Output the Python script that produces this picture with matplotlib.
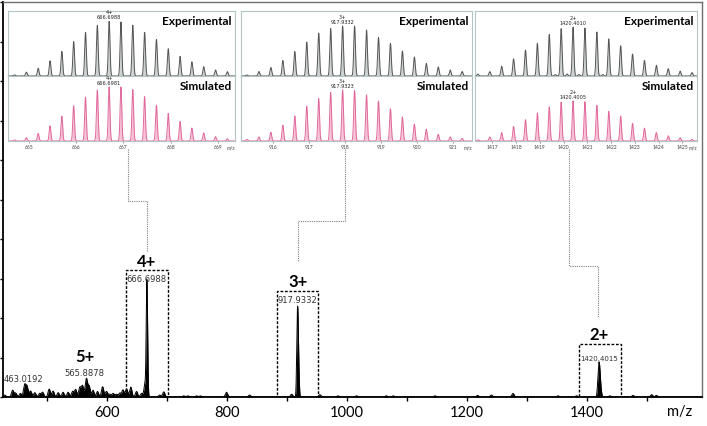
import numpy as np
import matplotlib.pyplot as plt
from matplotlib.patches import Rectangle

plt.rcParams['font.family'] = ['Lato', 'DejaVu Sans']

# isotope clusters: index of each isotope peak relative to the labelled one
iso_k = np.arange(-8, 11)
charges = [4, 3, 2]
exp_mz = [666.6988, 917.9332, 1420.4010]
sim_mz = [666.6981, 917.9323, 1420.4005]
exp_int = [
    [2, 7, 14, 28, 45, 63, 80, 93, 100, 99, 93, 80, 67, 50, 36, 26, 17, 11, 8],
    [2, 9, 17, 31, 49, 68, 86, 95, 100, 100, 92, 77, 65, 50, 38, 25, 18, 12, 9],
    [4, 9, 20, 35, 53, 67, 85, 97, 100, 98, 90, 76, 62, 45, 32, 22, 15, 10, 7],
]
sim_int = [
    [2, 6, 14, 28, 46, 65, 81, 94, 100, 100, 95, 82, 66, 51, 36, 24, 15, 8, 4],
    [3, 8, 17, 31, 49, 68, 83, 95, 100, 99, 90, 78, 63, 47, 33, 23, 13, 8, 5],
    [3, 10, 21, 36, 53, 70, 85, 97, 100, 98, 89, 74, 62, 44, 32, 21, 13, 8, 4],
]
# small extra peaks seen in the 2+ experimental trace
extra_mz = [1419.65, 1420.15, 1420.65, 1421.65]
extra_int = [3, 4, 3, 3]

inset_xlim = [(664.56, 669.36), (915.10, 921.54), (1416.28, 1425.61)]
inset_ticks = [list(range(665, 670)), list(range(916, 922)), list(range(1417, 1426))]
exp_top = [119, 130, 133]
sim_top = [120, 127, 162]

# full spectrum
main_mz = [666.6988, 917.9332, 1420.4015]
main_h = [28.6, 23.0, 8.9]
noise_mz = [430, 443, 448, 456, 463, 467, 473, 480, 488, 493,
            504, 510.5, 519, 527, 535.5, 543, 548, 555, 559.5, 565.9,
            570.5, 577, 584.5, 593, 599.5, 605, 610.5, 616, 621.7, 627,
            633, 640, 649.5, 658, 664, 688, 695, 728, 735, 749.5,
            756, 799.5, 838, 908, 955, 985, 1016, 1066, 1077, 1147,
            1218, 1241, 1277, 1352, 1383, 1438, 1477, 1508, 1516]
noise_h = [0.5, 1.7, 1.0, 0.9, 3.0, 2.6, 1.5, 1.1, 0.9, 1.2,
           2.0, 1.5, 1.1, 1.2, 1.2, 1.4, 1.9, 2.4, 2.8, 4.6,
           2.7, 1.7, 1.4, 2.6, 1.4, 0.7, 0.9, 0.7, 1.0, 1.8,
           2.0, 2.5, 1.4, 0.9, 3.5, 0.5, 1.3, 0.3, 0.3, 0.3,
           0.3, 1.2, 0.5, 0.7, 0.6, 0.3, 0.3, 0.3, 0.3, 0.3,
           0.4, 0.5, 0.9, 0.3, 0.3, 0.3, 0.4, 0.6, 0.4]
small_labels = [(461.7, 4.6, '463.0192'), (563, 6.3, '565.8878')]
box_mz = [(632, 702), (883, 952), (1387, 1457)]
box_top = [32.2, 26.8, 13.4]


def profile(x, centers, heights, sigma):
    c = np.asarray(centers, dtype=float)[:, None]
    h = np.asarray(heights, dtype=float)[:, None]
    return (h * np.exp(-0.5 * ((x - c) / sigma) ** 2)).sum(axis=0)


W, H = 707, 427
fig = plt.figure(figsize=(W / 100, H / 100), dpi=100)

ax = fig.add_axes([3 / W, 1 - 398 / H, 699 / W, 395 / H])
x = np.linspace(427, 1592, 20000)
y = profile(x, noise_mz, noise_h, 1.9)
for mz, z, ints, h in zip(main_mz, charges, exp_int, main_h):
    p = profile(x, mz + iso_k / z, ints, 0.7)
    y += p * h / p.max()
ax.fill_between(x, y, color='black', lw=0)
ax.plot(x, y, color='black', lw=0.7)
ax.set_xlim(427, 1592)
ax.set_ylim(0, 100)
ax.set_xticks([600, 800, 1000, 1200, 1400])
ax.set_xticks(range(500, 1600, 100), minor=True)
ax.set_yticks(range(0, 101, 10))
ax.tick_params(axis='x', which='both', direction='out', length=3, width=1,
               labelsize=10.5, pad=3)
ax.tick_params(axis='y', direction='out', length=2.5, width=1, labelleft=False)
for s in ['left', 'bottom']:
    ax.spines[s].set_linewidth(1.3)
for s in ['top', 'right']:
    ax.spines[s].set_color('#707070')
    ax.spines[s].set_linewidth(1)
ax.text((680 - 3) / 699, -0.035, 'm/z', transform=ax.transAxes,
        ha='center', va='center', fontsize=10.5)

# boxes and charge labels
for (a, b), t in zip(box_mz, box_top):
    ax.add_patch(Rectangle((a, 0), b - a, t, fill=False, ec='black', lw=1,
                           ls=(0, (2, 1.2)), zorder=3))
ax.text(666.7, 34.4, '4+', ha='center', va='center', fontsize=12, fontweight='bold')
ax.text(666.7, 30.0, '666.6988', ha='center', va='center', fontsize=6,
        family='DejaVu Sans', color='#333333')
ax.text(918.0, 29.4, '3+', ha='center', va='center', fontsize=12, fontweight='bold')
ax.text(918.0, 24.6, '917.9332', ha='center', va='center', fontsize=6,
        family='DejaVu Sans', color='#333333')
ax.text(1421, 16.0, '2+', ha='center', va='center', fontsize=12, fontweight='bold')
ax.text(1421, 9.9, '1420.4015', ha='center', va='center', fontsize=5,
        family='DejaVu Sans', color='#333333')
ax.text(563, 10.4, '5+', ha='center', va='center', fontsize=12, fontweight='bold')
for mx, my, s in small_labels:
    ax.text(mx, my, s, ha='center', va='center', fontsize=6,
            family='DejaVu Sans', color='#333333')

# dotted connectors from the insets down to the peaks
conn = dict(color='#808080', lw=0.8, ls=(0, (1, 1)), clip_on=False)
ax.plot([635, 635, 666.7, 666.7], [62.8, 49.6, 49.6, 37.0], **conn)
ax.plot([996.7, 996.7, 918.3, 918.3], [62.8, 44.6, 44.6, 34.4], **conn)
ax.plot([1370, 1370, 1418.3, 1418.3], [62.8, 33.2, 33.2, 20.3], **conn)

# insets
inset_px = [(8, 235), (241, 472), (475, 697)]
frame_col = '#b4c4c4'
for i in range(3):
    x0, x1 = inset_px[i]
    lo, hi = inset_xlim[i]
    z = charges[i]
    xi = np.linspace(lo, hi, 4000)
    sig = 0.07 / z
    ax_e = fig.add_axes([x0 / W, 1 - 77 / H, (x1 - x0) / W, 65 / H])
    ax_s = fig.add_axes([x0 / W, 1 - 142 / H, (x1 - x0) / W, 65 / H])

    ye = profile(xi, exp_mz[i] + iso_k / z, exp_int[i], sig)
    if i == 2:
        ye += profile(xi, extra_mz, extra_int, sig)
    ax_e.fill_between(xi, ye, color='#cdd2d2', lw=0)
    ax_e.plot(xi, ye, color='#555555', lw=0.7)
    ys = profile(xi, sim_mz[i] + iso_k / z, sim_int[i], sig)
    ax_s.fill_between(xi, ys, color='#f7c2d6', lw=0)
    ax_s.plot(xi, ys, color='#e0689c', lw=0.7)

    for a, top in ((ax_e, exp_top[i]), (ax_s, sim_top[i])):
        a.set_xlim(lo, hi)
        a.set_ylim(0, top)
        a.set_yticks([])
        for s in a.spines.values():
            s.set_color(frame_col)
            s.set_linewidth(0.8)
    ax_e.spines['bottom'].set_color('#555555')
    ax_e.set_xticks([])
    ax_s.set_xticks(inset_ticks[i])
    ax_s.tick_params(axis='x', length=1.2, width=0.5, color='#777777',
                     labelsize=3.6, labelcolor='#444444', pad=1)
    ax_s.text(1.0, -0.05, 'm/z', transform=ax_s.transAxes, ha='right',
              va='top', fontsize=3.6, color='#444444')

    ax_e.annotate('%d+\n%.4f' % (z, exp_mz[i]), xy=(exp_mz[i], 100),
                  xytext=(0, 1.5), textcoords='offset points', ha='center',
                  va='bottom', fontsize=3.6, family='DejaVu Sans',
                  linespacing=0.95, color='#222222')
    ax_s.annotate('%d+\n%.4f' % (z, sim_mz[i]), xy=(sim_mz[i], 100),
                  xytext=(0, 1.5), textcoords='offset points', ha='center',
                  va='bottom', fontsize=3.6, family='DejaVu Sans',
                  linespacing=0.95, color='#222222')
    ax_e.text(0.985, 0.86, 'Experimental', transform=ax_e.transAxes,
              ha='right', va='center', fontsize=8.5, fontweight='bold')
    ax_s.text(0.985, 0.86, 'Simulated', transform=ax_s.transAxes,
              ha='right', va='center', fontsize=8.5, fontweight='bold')

fig.savefig('out.png', dpi=100)
